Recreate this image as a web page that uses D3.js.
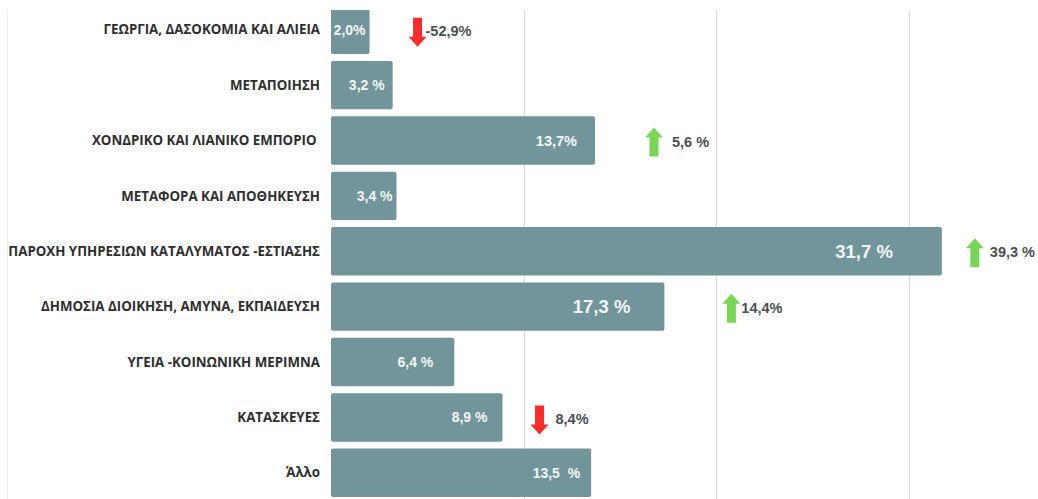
<!DOCTYPE html>
<html>
<head>
<meta charset="utf-8">
<script src="https://cdn.jsdelivr.net/npm/d3@7"></script>
<style>
  body { margin: 0; background: #fff; }
  svg text { white-space: pre; }
</style>
</head>
<body>
<div class="container"></div>
<script>
// data
var categories = [
  "ΓΕΩΡΓΙΑ, ΔΑΣΟΚΟΜΙΑ ΚΑΙ ΑΛΙΕΙΑ",
  "ΜΕΤΑΠΟΙΗΣΗ",
  "ΧΟΝΔΡΙΚΟ ΚΑΙ ΛΙΑΝΙΚΟ ΕΜΠΟΡΙΟ ",
  "ΜΕΤΑΦΟΡΑ ΚΑΙ ΑΠΟΘΗΚΕΥΣΗ",
  "ΠΑΡΟΧΗ ΥΠΗΡΕΣΙΩΝ ΚΑΤΑΛΥΜΑΤΟΣ -ΕΣΤΙΑΣΗΣ",
  "ΔΗΜΟΣΙΑ ΔΙΟΙΚΗΣΗ, ΑΜΥΝΑ, ΕΚΠΑΙΔΕΥΣΗ",
  "ΥΓΕΙΑ -ΚΟΙΝΩΝΙΚΗ ΜΕΡΙΜΝΑ",
  "ΚΑΤΑΣΚΕΥΕΣ",
  "Άλλο"
];
var shares = [2.0, 3.2, 13.7, 3.4, 31.7, 17.3, 6.4, 8.9, 13.5];
var shareLabels = ["2,0%", "3,2 %", "13,7%", "3,4 %", "31,7 %", "17,3 %", "6,4 %", "8,9 %", "13,5  %"];
// change vs previous period (null = not shown); sign gives arrow direction
var changes = [-52.9, null, 5.6, null, 39.3, 14.4, null, -8.4, null];
var changeLabels = ["-52,9%", null, "5,6 %", null, "39,3 %", "14,4%", null, "8,4%", null];
var gridTicks = [10, 20, 30];

// layout bits (not data)
var labelInset = [4, 8, 18, 4, 49, 34, 21, 15, 11];
var labelSize = [14, 14, 14.5, 14, 18.5, 18.5, 14, 14, 14];
var arrowGap = [48, 0, 59, 0, 33, 67, 0, 37, 0];
var changeGap = [8, 0, 18, 0, 15, 10, 0, 16, 0];

var W = 1038, H = 499, plotTop = 10;
var svg = d3.select(".container").append("svg")
    .attr("width", W)
    .attr("height", H);

svg.append("defs").append("clipPath").attr("id", "plot")
  .append("rect")
    .attr("x", 0).attr("y", plotTop)
    .attr("width", W).attr("height", H - plotTop);

var x = d3.scaleLinear().domain([0, 10]).range([331, 523.7]);
var y = d3.scaleBand().domain(categories)
    .range([2, 2 + 9 * 55.4])
    .paddingInner(0.126)
    .paddingOuter(0.065);

// faint left border
svg.append("line")
    .attr("x1", 7.5).attr("x2", 7.5)
    .attr("y1", plotTop).attr("y2", H)
    .style("stroke", "#eceef3");

// gridlines
svg.selectAll("line.grid")
    .data(gridTicks)
    .enter().append("line")
    .attr("class", "grid")
    .attr("x1", function(d) { return Math.round(x(d)) + 0.5; })
    .attr("x2", function(d) { return Math.round(x(d)) + 0.5; })
    .attr("y1", plotTop).attr("y2", H)
    .style("stroke", "#dcdcdc");

// bars
svg.append("g").attr("clip-path", "url(#plot)")
  .selectAll("rect.bar")
    .data(shares)
    .enter().append("rect")
    .attr("class", "bar")
    .attr("x", x(0))
    .attr("y", function(d, i) { return y(categories[i]); })
    .attr("width", function(d) { return x(d) - x(0); })
    .attr("height", y.bandwidth())
    .attr("rx", 2)
    .style("fill", "#71959a");

// category labels
svg.selectAll("text.cat")
    .data(categories)
    .enter().append("text")
    .attr("class", "cat")
    .attr("x", 320)
    .attr("y", function(d) { return y(d) + y.bandwidth() / 2; })
    .attr("dy", "0.35em")
    .attr("text-anchor", "end")
    .style("font-family", "'Open Sans', sans-serif")
    .style("font-weight", "bold")
    .style("font-size", "13.3px")
    .style("fill", "#2e2e2e")
    .text(function(d) { return d; });

// value labels inside bars
svg.selectAll("text.val")
    .data(shares)
    .enter().append("text")
    .attr("class", "val")
    .attr("x", function(d, i) { return x(d) - labelInset[i]; })
    .attr("y", function(d, i) { return y(categories[i]) + y.bandwidth() / 2; })
    .attr("dy", "0.35em")
    .attr("text-anchor", "end")
    .style("font-family", "'Liberation Sans', Arial, sans-serif")
    .style("font-weight", "bold")
    .style("font-size", function(d, i) { return labelSize[i] + "px"; })
    .style("fill", "#f4f6f6")
    .text(function(d, i) { return shareLabels[i]; });

// change arrows + labels
var changeData = changes.map(function(c, i) { return { c: c, i: i }; })
    .filter(function(d) { return d.c !== null; });

var arrowUp = "M0,-15 L9,-5 L4.5,-5 L4.5,14 L-4.5,14 L-4.5,-5 L-9,-5 Z";
var arrowDown = "M0,15 L9,5 L4.5,5 L4.5,-14 L-4.5,-14 L-4.5,5 L-9,5 Z";

var chg = svg.selectAll("g.chg")
    .data(changeData)
    .enter().append("g")
    .attr("class", "chg")
    .attr("transform", function(d) {
      var cx = x(shares[d.i]) + arrowGap[d.i];
      var cy = y(categories[d.i]) + y.bandwidth() / 2 + 2;
      return "translate(" + cx + "," + cy + ")";
    });

chg.append("path")
    .attr("d", function(d) { return d.c > 0 ? arrowUp : arrowDown; })
    .style("fill", function(d) { return d.c > 0 ? "#78d655" : "#ff2b2b"; });

chg.append("text")
    .attr("x", function(d) { return changeGap[d.i]; })
    .attr("y", -1)
    .attr("dy", "0.35em")
    .style("font-family", "'Liberation Sans', Arial, sans-serif")
    .style("font-weight", "bold")
    .style("font-size", "14.5px")
    .style("fill", "#4a4f55")
    .text(function(d) { return changeLabels[d.i]; });
</script>
</body>
</html>
